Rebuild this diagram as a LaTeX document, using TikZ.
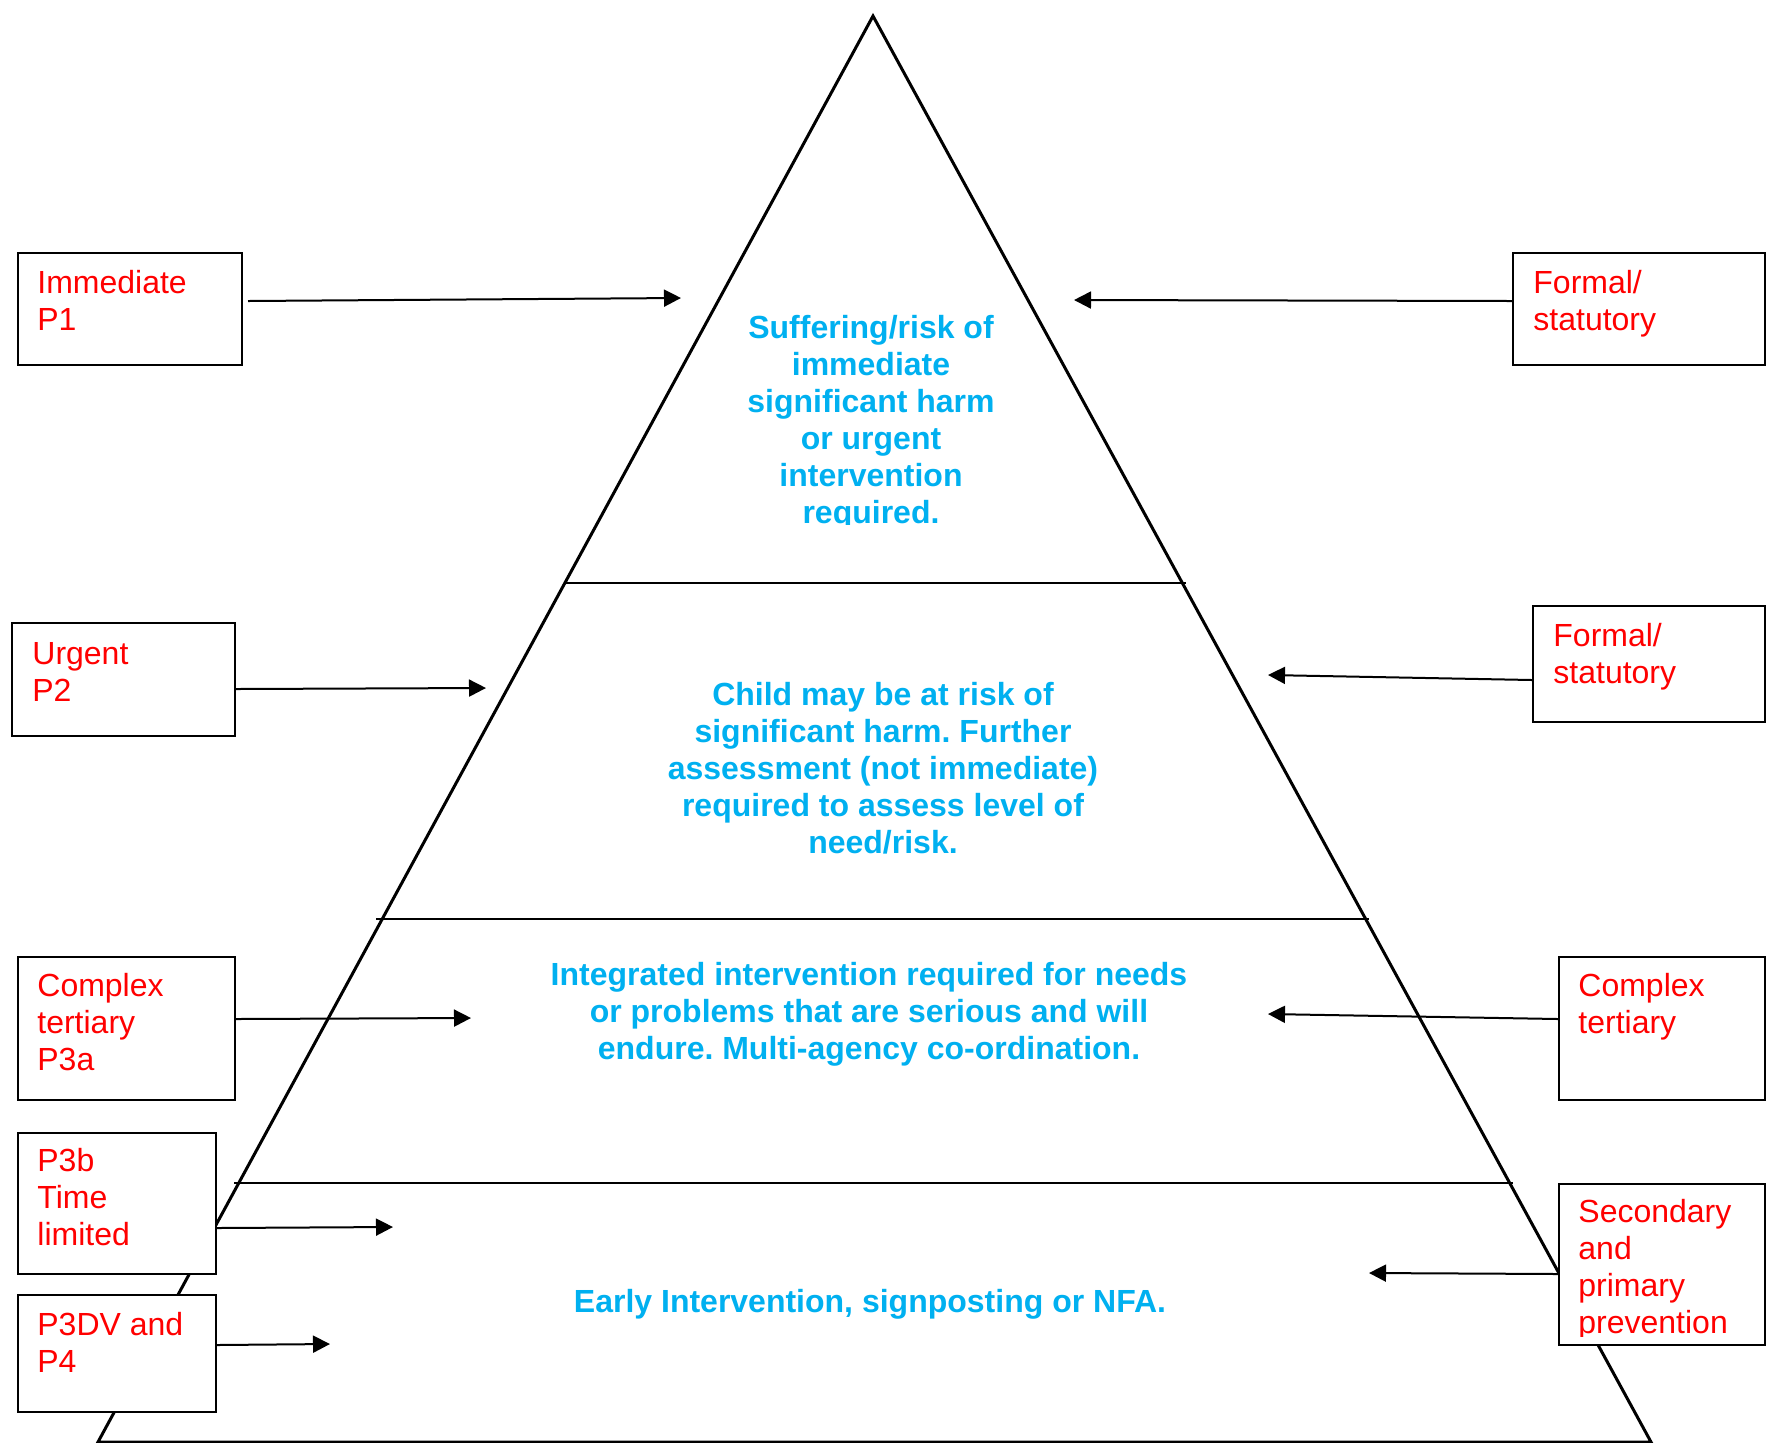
\documentclass[tikz,border=0pt]{standalone}
\usepackage{fontspec}
\setmainfont{Liberation Sans}
\usetikzlibrary{arrows.meta}
\definecolor{tred}{HTML}{FF0000}
\definecolor{tblue}{HTML}{00B0F0}
\frenchspacing
\begin{document}
\begin{tikzpicture}[x=0.5pt,y=-0.5pt,
  box/.style={draw=black,line width=1pt,fill=white,inner sep=0pt,anchor=north west},
  lbl/.style={text=tred,font=\frenchspacing\fontsize{16}{18.5}\selectfont,align=left,anchor=base west,inner sep=0pt},
  lvl/.style={text=tblue,font=\frenchspacing\bfseries\fontsize{16}{18.5}\selectfont,align=center,anchor=base,inner sep=0pt},
  arr/.style={line width=1pt,-{Triangle[length=8.5pt,width=8.5pt]}},
  sepline/.style={line width=1pt}]
\useasboundingbox (0,0) rectangle (1771,1442);
% pyramid
\draw[line width=1.5pt,line join=miter] (873,16) -- (1651,1442) -- (98,1442) -- cycle;
\draw[sepline] (565,583) -- (1186,583);
\draw[sepline] (376,919) -- (1369,919);
\draw[sepline] (234,1183) -- (1513,1183);
% boxes
\node[box,minimum width=112pt,minimum height=56pt] (p1) at (17,252) {};
\node[box,minimum width=126pt,minimum height=56pt] (f1) at (1512,252) {};
\node[box,minimum width=111.5pt,minimum height=56.5pt] (p2) at (11,622) {};
\node[box,minimum width=116pt,minimum height=58pt] (f2) at (1532,605) {};
\node[box,minimum width=108.5pt,minimum height=71.5pt] (p3a) at (17,956) {};
\node[box,minimum width=103pt,minimum height=71.5pt] (ct) at (1558,956) {};
\node[box,minimum width=99pt,minimum height=70.5pt] (p3b) at (17,1132) {};
\node[box,minimum width=99pt,minimum height=58.5pt] (p4) at (17,1294) {};
\node[box,minimum width=103pt,minimum height=80.5pt] (sp) at (1558,1183) {};
% arrow targets
\coordinate (t1) at (681,298);
\coordinate (tf1) at (1074,300);
\coordinate (t2) at (486,688);
\coordinate (tf2) at (1268,675);
\coordinate (t3a) at (471,1018);
\coordinate (tct) at (1268,1014);
\coordinate (t3b) at (393,1227);
\coordinate (t4) at (330,1344);
\coordinate (tsp) at (1369,1273);
\draw[arr] ([xshift=2.5pt,yshift=4pt]p1.east) -- (t1);
\draw[arr] ([yshift=4pt]f1.west) -- (tf1);
\draw[arr] ([yshift=-4.75pt]p2.east) -- (t2);
\draw[arr] ([yshift=-8pt]f2.west) -- (tf2);
\draw[arr] ([yshift=4.75pt]p3a.east) -- (t3a);
\draw[arr] ([yshift=4.75pt]ct.west) -- (tct);
\draw[arr] ([yshift=-12.25pt]p3b.east) -- (t3b);
\draw[arr] ([yshift=4.25pt]p4.east) -- (t4);
\draw[arr] ([yshift=-4.75pt]sp.west) -- (tsp);
% red labels (anchor = baseline of last line)
\node[lbl] (lp1) at (37,330) {Immediate\\P1};
\node[lbl] (lf1) at (1533,330) {Formal/\\statutory};
\node[lbl] (lp2) at (32,701) {Urgent\\P2};
\node[lbl] (lf2) at (1553,683) {Formal/\\statutory};
\node[lbl] (lp3a) at (37,1070) {Complex\\tertiary\\P3a};
\node[lbl] (lct) at (1578,1033) {Complex\\tertiary};
\node[lbl] (lp3b) at (37,1245) {P3b\\Time\\limited};
\node[lbl] (lp4) at (37,1372) {P3DV and\\P4};
\begin{scope}
\clip (1558,1183) rectangle (1764,1336);
\node[lbl] (lsp) at (1578,1333) {Secondary\\and\\primary\\prevention};
\end{scope}
% blue level texts
\begin{scope}
\clip (0,0) rectangle (1771,524);
\node[lvl] (lv1) at (871,523) {Suffering/risk of\\immediate\\significant harm\\or urgent\\intervention\\required.};
\end{scope}
\node[lvl] (lv2) at (883,853) {Child may be at risk of\\significant harm. Further\\assessment (not immediate)\\required to assess level of\\need/risk.};
\node[lvl] (lv3) at (869,1059) {Integrated intervention required for needs\\or problems that are serious and will\\endure. Multi-agency co-ordination.};
\node[lvl] (lv4) at (870,1312) {Early Intervention, signposting or NFA.};
\end{tikzpicture}
\end{document}
